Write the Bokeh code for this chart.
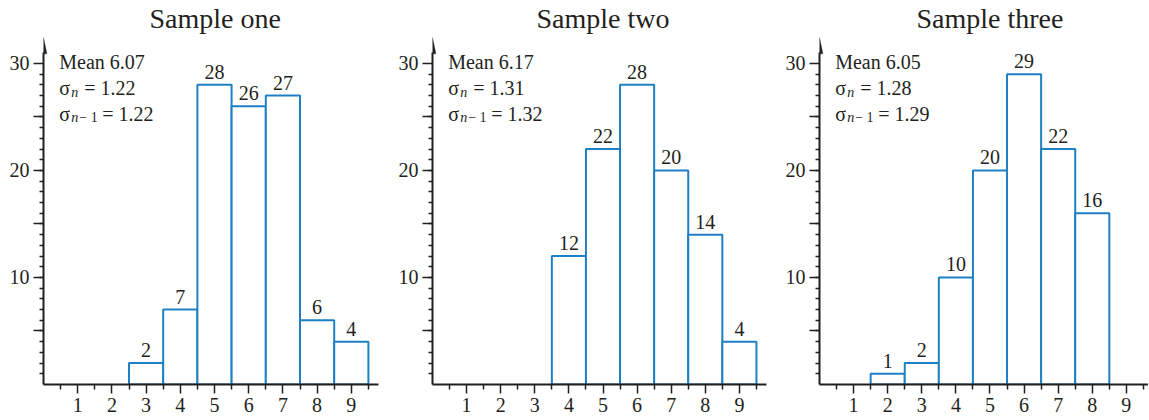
from bokeh.plotting import figure
from bokeh.layouts import row
from bokeh.models import FixedTicker, PolyAnnotation, Range1d
from bokeh.core.properties import value
from bokeh.embed import file_html
from bokeh.resources import INLINE

# ---- data ----
titles = ["Sample one", "Sample two", "Sample three"]
scores = [[3, 4, 5, 6, 7, 8, 9],
          [4, 5, 6, 7, 8, 9],
          [2, 3, 4, 5, 6, 7, 8]]
counts = [[2, 7, 28, 26, 27, 6, 4],
          [12, 22, 28, 20, 14, 4],
          [1, 2, 10, 20, 29, 22, 16]]
means = [6.07, 6.17, 6.05]
sd_n = [1.22, 1.31, 1.28]
sd_n1 = [1.22, 1.32, 1.29]
x_tick_values = [1, 2, 3, 4, 5, 6, 7, 8, 9]
y_tick_values = [5, 10, 15, 20, 25, 30]

# ---- style / layout ----
FONT = "Liberation Serif"
INK = "#231f20"
BLUE = "#1e80c4"
PX_X = 34.2
HEIGHT = 420
widths = [395, 387, 366]
borders_left = [43, 36, 36]
borders_right = [10, 9, 0]
title_offsets = [106, 104, 97]
Y_TOP = 32.8


def panel(i):
    w = widths[i]
    bl, br = borders_left[i], borders_right[i]
    p = figure(width=w, height=HEIGHT, output_backend="svg", toolbar_location=None,
               x_range=Range1d(0, (w - bl - br) / PX_X), y_range=Range1d(0, Y_TOP),
               min_border_left=bl, min_border_right=br, min_border_top=0,
               min_border_bottom=36, title=titles[i])
    p.title.text_font = FONT
    p.title.text_font_size = "28px"
    p.title.text_font_style = "normal"
    p.title.text_color = INK
    p.title.align = "left"
    p.title.offset = title_offsets[i]
    p.title.standoff = 0
    p.outline_line_color = None
    p.xgrid.visible = False
    p.ygrid.visible = False
    p.background_fill_color = "white"
    p.border_fill_color = "white"

    xa = p.xaxis[0]
    xa.ticker = FixedTicker(ticks=x_tick_values,
                            minor_ticks=[k + 0.5 for k in range(10)])
    xa.bounds = (0, 9.8)
    ya = p.yaxis[0]
    ya.ticker = FixedTicker(ticks=y_tick_values, minor_ticks=list(range(1, 30)))
    ya.major_label_overrides = {5: "", 15: "", 25: ""}
    ya.bounds = (0, 31)
    for ax in (xa, ya):
        ax.axis_line_width = 2
        ax.axis_line_color = INK
        ax.major_tick_line_color = INK
        ax.minor_tick_line_color = INK
        ax.major_tick_line_width = 1.5
        ax.minor_tick_line_width = 1.5
        ax.major_tick_in = 0
        ax.minor_tick_in = 0
        ax.major_label_text_font = FONT
        ax.major_label_text_font_size = "20px"
        ax.major_label_text_color = INK
    xa.major_tick_out = 9
    xa.minor_tick_out = 5
    xa.major_label_standoff = 4
    ya.major_tick_out = 10
    ya.minor_tick_out = 4
    ya.major_label_standoff = 4

    # arrow head on the y axis
    p.add_layout(PolyAnnotation(xs=[-0.1, 0.1, 0.0], ys=[30.9, 30.9, 32.45],
                                fill_color=INK, fill_alpha=1.0,
                                line_color=INK, line_width=1))

    # bars
    p.vbar(x=scores[i], top=counts[i], bottom=0, width=1.0,
           fill_color="white", line_color=BLUE, line_width=2)
    p.text(x=scores[i], y=counts[i], text=[str(c) for c in counts[i]],
           text_font=value(FONT), text_font_size="20px", text_color=INK,
           text_align="center", text_baseline="alphabetic", y_offset=-13)

    # statistics
    tx = 0.46
    y1, y2, y3 = 30.1, 27.7, 25.3
    common = dict(text_font=value(FONT), text_color=INK,
                  text_align="left", text_baseline="alphabetic")
    p.text(x=[tx], y=[y1], text=[f"Mean {means[i]:.2f}"],
           text_font_size="20px", **common)
    p.text(x=[tx, tx], y=[y2, y3], text=["\u03c3", "\u03c3"],
           text_font_size="20px", **common)
    p.text(x=[tx, tx], y=[y2, y3], text=["n", "n"], x_offset=12, y_offset=4,
           text_font_size="14px", text_font_style="italic", **common)
    p.text(x=[tx], y=[y3], text=["\u2212 1"], x_offset=20, y_offset=4,
           text_font_size="14px", **common)
    p.text(x=[tx], y=[y2], text=[f"= {sd_n[i]:.2f}"], x_offset=25,
           text_font_size="20px", **common)
    p.text(x=[tx], y=[y3], text=[f"= {sd_n1[i]:.2f}"], x_offset=43,
           text_font_size="20px", **common)
    return p


layout = row(*[panel(i) for i in range(3)])
open("out.html", "w").write(file_html(layout, INLINE))
